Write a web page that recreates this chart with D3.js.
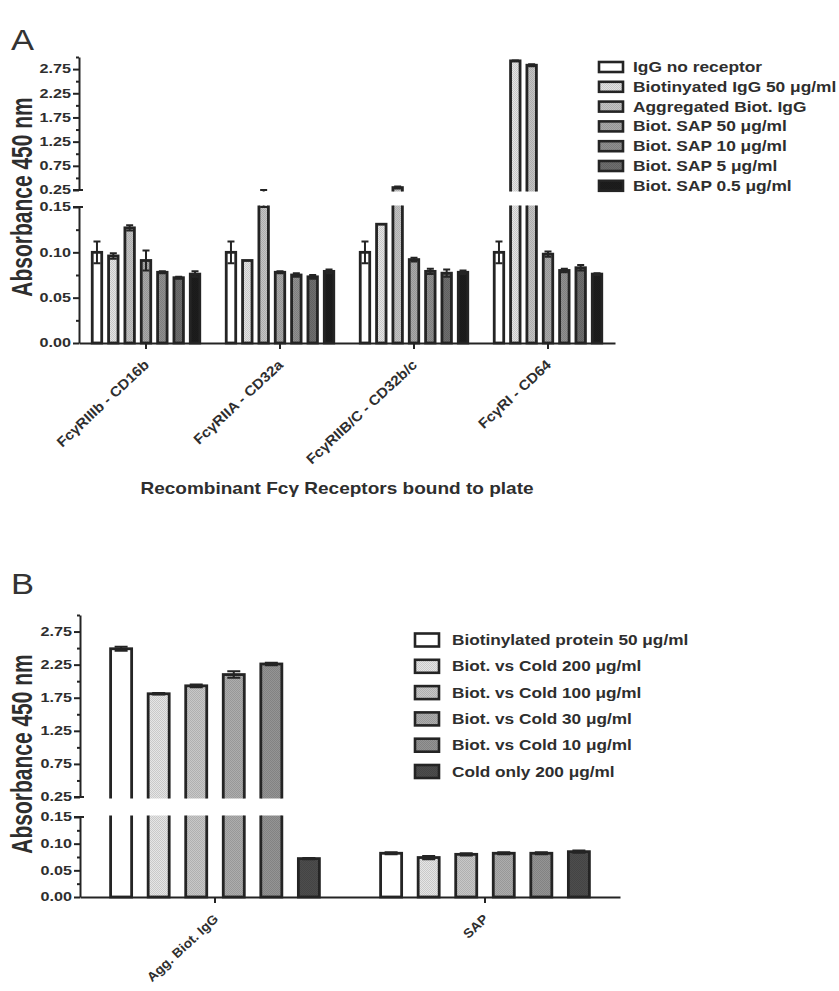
<!DOCTYPE html>
<html>
<head>
<meta charset="utf-8">
<script src="https://cdn.jsdelivr.net/npm/d3@7"></script>
<style>
  body { margin: 0; background: #fff; }
  svg { display: block; }
</style>
</head>
<body>
<svg id="chart" width="839" height="991"></svg>
<script>
// ---------- Panel A: binding to recombinant Fcγ receptors ----------
const receptors = ["FcγRIIIb - CD16b", "FcγRIIA - CD32a", "FcγRIIB/C - CD32b/c", "FcγRI - CD64"];
const seriesA = ["IgG no receptor", "Biotinyated IgG 50 μg/ml", "Aggregated Biot. IgG",
                 "Biot. SAP 50 μg/ml", "Biot. SAP 10 μg/ml", "Biot. SAP 5 μg/ml", "Biot. SAP 0.5 μg/ml"];
const igGNoReceptor     = [0.100, 0.100, 0.100, 0.100];
const igGNoReceptorErr  = [0.012, 0.012, 0.012, 0.012];
const biotIgG50         = [0.096, 0.091, 0.131, 2.92];
const biotIgG50Err      = [0.003, 0.000, 0.000, 0.010];
const aggBiotIgG        = [0.127, 0.200, 0.300, 2.83];
const aggBiotIgGErr     = [0.003, 0.050, 0.020, 0.020];
const biotSap50         = [0.091, 0.078, 0.092, 0.098];
const biotSap50Err      = [0.011, 0.001, 0.002, 0.003];
const biotSap10         = [0.078, 0.075, 0.079, 0.080];
const biotSap10Err      = [0.001, 0.002, 0.003, 0.002];
const biotSap5          = [0.072, 0.073, 0.077, 0.083];
const biotSap5Err       = [0.001, 0.002, 0.004, 0.003];
const biotSap05         = [0.076, 0.079, 0.078, 0.076];
const biotSap05Err      = [0.003, 0.002, 0.002, 0.001];
const fillsA = ["#ffffff", "#dadada", "#bcbcbc", "#a2a2a2", "#8a8a8a", "#6a6a6a", "#1c1c1c"];

// ---------- Panel B: competition with unlabelled (cold) protein ----------
const proteins = ["Agg. Biot. IgG", "SAP"];
const seriesB = ["Biotinylated protein 50 μg/ml", "Biot. vs Cold 200 μg/ml", "Biot. vs Cold 100 μg/ml",
                 "Biot. vs Cold 30 μg/ml", "Biot. vs Cold 10 μg/ml", "Cold only 200 μg/ml"];
const biotProtein50     = [2.49, 0.082];
const biotProtein50Err  = [0.03, 0.002];
const vsCold200         = [1.81, 0.074];
const vsCold200Err      = [0.01, 0.003];
const vsCold100         = [1.93, 0.080];
const vsCold100Err      = [0.02, 0.002];
const vsCold30          = [2.10, 0.082];
const vsCold30Err       = [0.05, 0.002];
const vsCold10          = [2.26, 0.082];
const vsCold10Err       = [0.02, 0.002];
const coldOnly200       = [0.072, 0.085];
const coldOnly200Err    = [0.001, 0.002];
const fillsB = ["#ffffff", "#dcdcdc", "#c0c0c0", "#a6a6a6", "#8e8e8e", "#4a4a4a"];

// ---------- shared axis ticks (broken y axis) ----------
const lowerMajorTicks = [0.00, 0.05, 0.10, 0.15];
const lowerMinorTicks = [0.025, 0.075, 0.125];
const upperMajorTicks = [0.25, 0.75, 1.25, 1.75, 2.25, 2.75];
const upperMinorTicks = [0.50, 1.00, 1.50, 2.00, 2.50, 3.00];
const yTitle = "Absorbance 450 nm";

const FONT = "'Liberation Sans', Arial, Helvetica, sans-serif";
const INK = "#242424";
const TEXT = "#2e2e2e";

const svg = d3.select("#chart");
const defs = svg.append("defs");

// stippled halftone-like fills
function stipple(color, key) {
  const c = d3.color(color);
  if (c.r > 250 && c.g > 250 && c.b > 250) return color;
  const id = "st-" + key;
  const p = defs.append("pattern").attr("id", id)
    .attr("width", 2).attr("height", 2).attr("patternUnits", "userSpaceOnUse");
  p.append("rect").attr("width", 2).attr("height", 2).attr("fill", c.brighter(0.12).formatHex());
  p.append("rect").attr("width", 1).attr("height", 1).attr("fill", c.darker(0.25).formatHex());
  p.append("rect").attr("x", 1).attr("y", 1).attr("width", 1).attr("height", 1).attr("fill", c.darker(0.25).formatHex());
  return `url(#${id})`;
}

function addText(parent, str, x, y, o) {
  return parent.append("text")
    .attr("transform", o.transform || `translate(${x},${y}) scale(${o.sx || 1},1)`)
    .attr("font-family", FONT)
    .attr("font-size", o.size)
    .attr("font-weight", o.weight || "bold")
    .attr("fill", o.fill || TEXT)
    .attr("text-anchor", o.anchor || "start")
    .text(str);
}

function drawPanel(cfg) {
  const g = svg.append("g");
  const fills = cfg.fills.map((c, i) => stipple(c, cfg.key + i));

  const x0 = d3.scaleBand().domain(cfg.groups).range([cfg.axisX, cfg.xEnd]);
  const x1 = d3.scaleBand().domain(d3.range(cfg.series.length))
    .range([0, x0.bandwidth()]).paddingInner(cfg.padIn).paddingOuter(cfg.padOut);
  const yLow = d3.scaleLinear().domain([0, 0.15]).range([cfg.yZero, cfg.yLowTop]);
  const yHigh = d3.scaleLinear().domain([0.25, 3.0]).range([cfg.yHighBottom, cfg.yHighTop]);

  const rows = [];
  cfg.means.forEach((arr, s) => arr.forEach((v, gi) => rows.push({
    s, group: cfg.groups[gi], v, e: cfg.errs[s][gi]
  })));

  // clip regions for the two axis segments
  const clipLowId = "clipLow-" + cfg.key, clipHighId = "clipHigh-" + cfg.key;
  defs.append("clipPath").attr("id", clipLowId).append("rect")
    .attr("x", cfg.axisX).attr("y", cfg.yLowTop - 1.6)
    .attr("width", cfg.xEnd - cfg.axisX + 10).attr("height", cfg.yZero - cfg.yLowTop + 6);
  defs.append("clipPath").attr("id", clipHighId).append("rect")
    .attr("x", cfg.axisX).attr("y", cfg.yHighTop - 20)
    .attr("width", cfg.xEnd - cfg.axisX + 10).attr("height", cfg.yHighBottom - cfg.yHighTop + 21.6);

  const bx = d => x0(d.group) + x1(d.s);
  const bw = x1.bandwidth();

  function segment(clipId, yScale, lo, hi, isLow) {
    const seg = g.append("g").attr("clip-path", `url(#${clipId})`);
    const vis = rows.filter(d => isLow ? true : d.v > lo);
    seg.selectAll("rect.bar").data(vis).join("rect").attr("class", "bar")
      .attr("x", d => bx(d))
      .attr("width", bw)
      .attr("y", d => d.v > hi ? yScale(hi) - 12 : yScale(d.v))
      .attr("height", d => {
        const top = d.v > hi ? yScale(hi) - 12 : yScale(d.v);
        const bottom = isLow ? cfg.yZero : cfg.yHighBottom + 12;
        return bottom - top;
      })
      .attr("fill", d => fills[d.s])
      .attr("stroke", INK).attr("stroke-width", cfg.barStroke);
    // error bars (mean ± SEM) with caps
    const eb = seg.selectAll("g.err").data(rows.filter(d => d.e > 0)).join("g").attr("class", "err")
      .attr("stroke", INK).attr("stroke-width", 2);
    eb.append("line")
      .attr("x1", d => bx(d) + bw / 2).attr("x2", d => bx(d) + bw / 2)
      .attr("y1", d => yScale(d.v - d.e)).attr("y2", d => yScale(d.v + d.e));
    [-1, 1].forEach(sign => {
      eb.append("line")
        .attr("x1", d => bx(d) + bw / 2 - cfg.cap / 2).attr("x2", d => bx(d) + bw / 2 + cfg.cap / 2)
        .attr("y1", d => yScale(d.v + sign * d.e)).attr("y2", d => yScale(d.v + sign * d.e));
    });
  }
  segment(clipLowId, yLow, 0, 0.15, true);
  segment(clipHighId, yHigh, 0.25, 3.0, false);

  // y axis, two segments
  function yAxisSeg(scale, major, minor) {
    const ax = g.append("g").attr("transform", `translate(${cfg.axisX},0)`);
    ax.call(d3.axisLeft(scale).tickValues(major).tickSize(6).tickSizeOuter(0).tickFormat(d3.format(".2f")));
    ax.append("g").call(d3.axisLeft(scale).tickValues(minor).tickSize(3).tickSizeOuter(0).tickFormat(""))
      .select(".domain").remove();
    ax.selectAll("path, line").attr("stroke", INK).attr("stroke-width", 2);
    ax.selectAll("text")
      .attr("x", null)
      .attr("transform", `translate(-8,0) scale(${cfg.tickSx},1)`)
      .attr("font-family", FONT).attr("font-weight", "bold").attr("font-size", cfg.tickSize)
      .attr("fill", TEXT);
    return ax;
  }
  yAxisSeg(yLow, lowerMajorTicks, lowerMinorTicks);
  yAxisSeg(yHigh, upperMajorTicks, upperMinorTicks);
  // break marks across the axis at the segment ends
  [cfg.yLowTop, cfg.yHighBottom].forEach(yy => {
    g.append("line").attr("x1", cfg.axisX - 6).attr("x2", cfg.axisX + 4)
      .attr("y1", yy).attr("y2", yy).attr("stroke", INK).attr("stroke-width", 2);
  });

  // x axis
  const xa = g.append("g").attr("transform", `translate(0,${cfg.yZero})`);
  xa.call(d3.axisBottom(x0).tickSize(6).tickSizeOuter(0).tickFormat(""));
  xa.selectAll("path, line").attr("stroke", INK).attr("stroke-width", 2);
  cfg.groups.forEach(gr => {
    const cx = x0(gr) + x0.bandwidth() / 2;
    addText(g, gr, 0, 0, {
      size: cfg.xTickSize, anchor: "end",
      transform: `translate(${cx + cfg.xLabDx},${cfg.yZero + cfg.xLabDy}) rotate(${cfg.xLabRot}) scale(${cfg.xLabSx},1)`
    });
  });

  // y title
  const ymid = (cfg.yHighTop + cfg.yZero) / 2 + cfg.titleDy;
  addText(g, yTitle, 0, 0, {
    size: cfg.titleSize, anchor: "middle",
    transform: `translate(${cfg.titleX},${ymid}) scale(${cfg.titleSx},1) rotate(-90)`
  });

  // legend
  cfg.series.forEach((name, i) => {
    const yy = cfg.legY + i * cfg.legStep;
    g.append("rect").attr("x", cfg.legX).attr("y", yy - cfg.legBoxH / 2)
      .attr("width", cfg.legBoxW).attr("height", cfg.legBoxH)
      .attr("fill", fills[i]).attr("stroke", INK).attr("stroke-width", 2.6);
    addText(g, name, cfg.legTextX, yy + 5, { size: cfg.legSize, sx: cfg.legSx });
  });

  // panel letter
  addText(g, cfg.letter, cfg.letterX, cfg.letterY, { size: 30, weight: "normal", sx: 1.15, fill: "#333" });
  return g;
}

drawPanel({
  key: "A", letter: "A", letterX: 11, letterY: 50,
  groups: receptors, series: seriesA, fills: fillsA,
  means: [igGNoReceptor, biotIgG50, aggBiotIgG, biotSap50, biotSap10, biotSap5, biotSap05],
  errs: [igGNoReceptorErr, biotIgG50Err, aggBiotIgGErr, biotSap50Err, biotSap10Err, biotSap5Err, biotSap05Err],
  axisX: 79, xEnd: 615, padIn: 0.42, padOut: 0.81, barStroke: 2.8, cap: 7,
  yZero: 343, yLowTop: 207, yHighBottom: 190, yHighTop: 57,
  tickSize: 12, tickSx: 1.35,
  xTickSize: 14, xLabDx: 4, xLabDy: 23, xLabRot: -43, xLabSx: 1.08,
  titleSize: 21, titleSx: 1.4, titleX: 32, titleDy: -3,
  legX: 599, legTextX: 633, legY: 67, legStep: 19.8, legBoxW: 24, legBoxH: 10, legSize: 14, legSx: 1.24
});

drawPanel({
  key: "B", letter: "B", letterX: 11, letterY: 594,
  groups: proteins, series: seriesB, fills: fillsB,
  means: [biotProtein50, vsCold200, vsCold100, vsCold30, vsCold10, coldOnly200],
  errs: [biotProtein50Err, vsCold200Err, vsCold100Err, vsCold30Err, vsCold10Err, coldOnly200Err],
  axisX: 80, xEnd: 620, padIn: 0.44, padOut: 0.815, barStroke: 2.8, cap: 13,
  yZero: 897, yLowTop: 817, yHighBottom: 797, yHighTop: 615,
  tickSize: 12, tickSx: 1.35,
  xTickSize: 13, xLabDx: 4, xLabDy: 23, xLabRot: -43, xLabSx: 1.06,
  titleSize: 21, titleSx: 1.4, titleX: 32, titleDy: -2,
  legX: 415, legTextX: 452, legY: 640, legStep: 26.3, legBoxW: 24, legBoxH: 13, legSize: 14, legSx: 1.23
});

// panel A x-axis title
addText(svg, "Recombinant Fcγ Receptors bound to plate", 337, 494, { size: 17, anchor: "middle", sx: 1.12 });
</script>
</body>
</html>
